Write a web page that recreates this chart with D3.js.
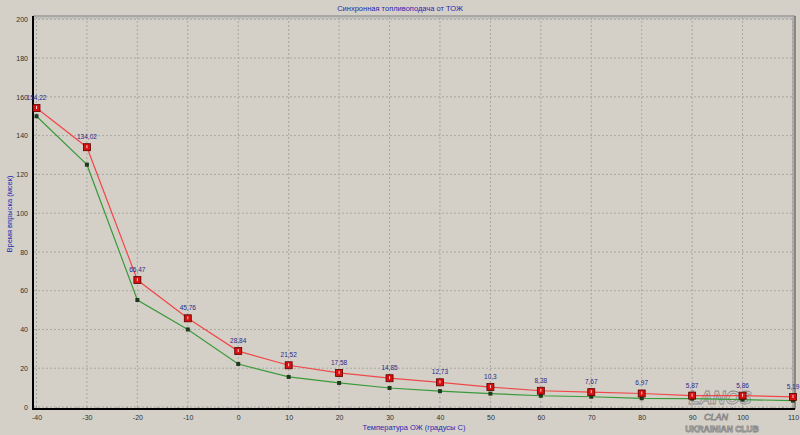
<!DOCTYPE html>
<html><head><meta charset="utf-8">
<script src="https://cdn.jsdelivr.net/npm/d3@7"></script>
<style>
html,body{margin:0;padding:0;background:#d4d0c8;}
svg{display:block;font-family:"Liberation Sans","DejaVu Sans",sans-serif;}
</style></head>
<body><svg id="c" width="800" height="435"></svg>
<script>
const temps = [-40,-30,-20,-10,0,10,20,30,40,50,60,70,80,90,100,110];
const redValues = [154.22,134.02,65.47,45.76,28.84,21.52,17.58,14.85,12.73,10.3,8.38,7.67,6.97,5.87,5.86,5.19];
const redLabels = ["154,22","134,02","65,47","45,76","28,84","21,52","17,58","14,85","12,73","10,3","8,38","7,67","6,97","5,87","5,86","5,19"];
const greenValues = [150,125,55.2,40,22.2,15.5,12.4,9.8,8.2,6.9,5.8,5.3,4.5,4.3,3.8,3.3];
const xTicks = [-40,-30,-20,-10,0,10,20,30,40,50,60,70,80,90,100,110];
const yTicks = [0,20,40,60,80,100,120,140,160,180,200];
const titleText = "Синхронная топливоподача от ТОЖ";
const xTitle = "Температура ОЖ (градусы С)";
const yTitle = "Время впрыска (мсек)";

const svg = d3.select("#c");
const frame = {l:33, r:795, t:16, b:409};
const x = d3.scaleLinear().domain([-40,110]).range([36.5,793]);
const y = d3.scaleLinear().domain([0,200]).range([407,19.3]);

svg.append("rect").attr("width",800).attr("height",435).attr("fill","#d4d0c8");

// grid
const g = svg.append("g");
g.selectAll("line.vg").data(xTicks).join("line")
  .attr("x1",d=>x(d)).attr("x2",d=>x(d)).attr("y1",frame.t+1).attr("y2",frame.b-1)
  .attr("stroke","#a8a8a0").attr("stroke-width",1).attr("stroke-dasharray","2,2");
g.selectAll("line.hg").data(yTicks).join("line")
  .attr("y1",d=>y(d)).attr("y2",d=>y(d)).attr("x1",frame.l+1).attr("x2",frame.r-1)
  .attr("stroke","#a8a8a0").attr("stroke-width",1).attr("stroke-dasharray","2,2");

// frame top/right
svg.append("line").attr("x1",frame.l).attr("x2",frame.r).attr("y1",frame.t).attr("y2",frame.t).attr("stroke","#808080");
svg.append("line").attr("x1",frame.r).attr("x2",frame.r).attr("y1",frame.t).attr("y2",frame.b).attr("stroke","#404040");
svg.append("line").attr("x1",frame.r-2).attr("x2",frame.r-2).attr("y1",frame.t+2).attr("y2",frame.b).attr("stroke","#909090");
svg.append("line").attr("x1",frame.l).attr("x2",frame.r-2).attr("y1",frame.t+2).attr("y2",frame.t+2).attr("stroke","#b0b0b0");

// axes
const fmt = d => String(d);
const xAxis = d3.axisBottom(x).tickValues(xTicks).tickSize(0).tickPadding(5).tickFormat(fmt);
const yAxis = d3.axisLeft(y).tickValues(yTicks).tickSize(0).tickPadding(5).tickFormat(fmt);
const xa = svg.append("g").attr("transform",`translate(0,${frame.b})`).call(xAxis);
xa.select(".domain").remove();
const ya = svg.append("g").attr("transform",`translate(${frame.l},0)`).call(yAxis);
ya.select(".domain").remove();
svg.selectAll(".tick text").attr("fill","#303030").attr("font-size",7);
xa.selectAll(".tick text").attr("dy","0.9em");

// minor ticks bottom
const minor = d3.range(-40,111,2);
svg.selectAll("line.mt").data(minor).join("line")
  .attr("x1",d=>x(d)).attr("x2",d=>x(d)).attr("y1",frame.b-2).attr("y2",frame.b)
  .attr("stroke","#707070").attr("stroke-width",0.6);

svg.append("line").attr("x1",frame.l).attr("x2",frame.l).attr("y1",frame.t).attr("y2",frame.b+1).attr("stroke","#000").attr("stroke-width",2);
svg.append("line").attr("x1",frame.l-1).attr("x2",frame.r).attr("y1",frame.b).attr("y2",frame.b).attr("stroke","#000").attr("stroke-width",2);

// titles
svg.append("text").attr("x",400).attr("y",11).attr("text-anchor","middle").attr("font-size",7.5).attr("fill","#2828b0").text(titleText);
svg.append("text").attr("x",414).attr("y",430).attr("text-anchor","middle").attr("font-size",7.5).attr("fill","#2828b0").text(xTitle);
svg.append("text").attr("transform","translate(12,214) rotate(-90)").attr("text-anchor","middle").attr("font-size",7.5).attr("fill","#2828b0").text(yTitle);

// watermark (behind series)
const wm = svg.append("g").attr("fill","none").attr("stroke","#8a8a8a").attr("stroke-width",0.8);
wm.append("text").attr("x",720).attr("y",404).attr("text-anchor","middle").attr("font-size",18).attr("font-weight","bold").attr("font-style","italic").text("LANOS");
wm.append("text").attr("x",716).attr("y",420).attr("text-anchor","middle").attr("font-size",9).attr("font-style","italic").text("CLAN");
wm.append("text").attr("x",722).attr("y",432).attr("text-anchor","middle").attr("font-size",8.5).attr("font-weight","bold").text("UKRAINIAN CLUB");

// lines
const line = d3.line().x((d,i)=>x(temps[i])).y(d=>y(d));
svg.append("path").datum(greenValues).attr("d",line).attr("fill","none").attr("stroke","#3a9a3a").attr("stroke-width",1.2);
svg.append("path").datum(redValues).attr("d",line).attr("fill","none").attr("stroke","#f04848").attr("stroke-width",1.2);

// green markers
svg.selectAll("rect.gm").data(greenValues).join("rect")
  .attr("x",(d,i)=>x(temps[i])-2).attr("y",d=>y(d)-2).attr("width",4).attr("height",4)
  .attr("fill","#1e3a1e");

// red markers
const rm = svg.selectAll("g.rm").data(redValues).join("g")
  .attr("transform",(d,i)=>`translate(${x(temps[i])},${y(d)})`);
rm.append("rect").attr("x",-3.5).attr("y",-3.5).attr("width",7).attr("height",7)
  .attr("fill","#d81010").attr("stroke","#5a0000").attr("stroke-width",0.8);
rm.append("rect").attr("x",-0.5).attr("y",-2).attr("width",1).attr("height",3).attr("fill","#ffd0d0");

// labels
svg.selectAll("text.dl").data(redValues).join("text")
  .attr("x",(d,i)=>x(temps[i])).attr("y",d=>y(d)-8)
  .attr("text-anchor","middle").attr("font-size",6.5).attr("fill","#28288c")
  .text((d,i)=>redLabels[i]);
</script></body></html>
